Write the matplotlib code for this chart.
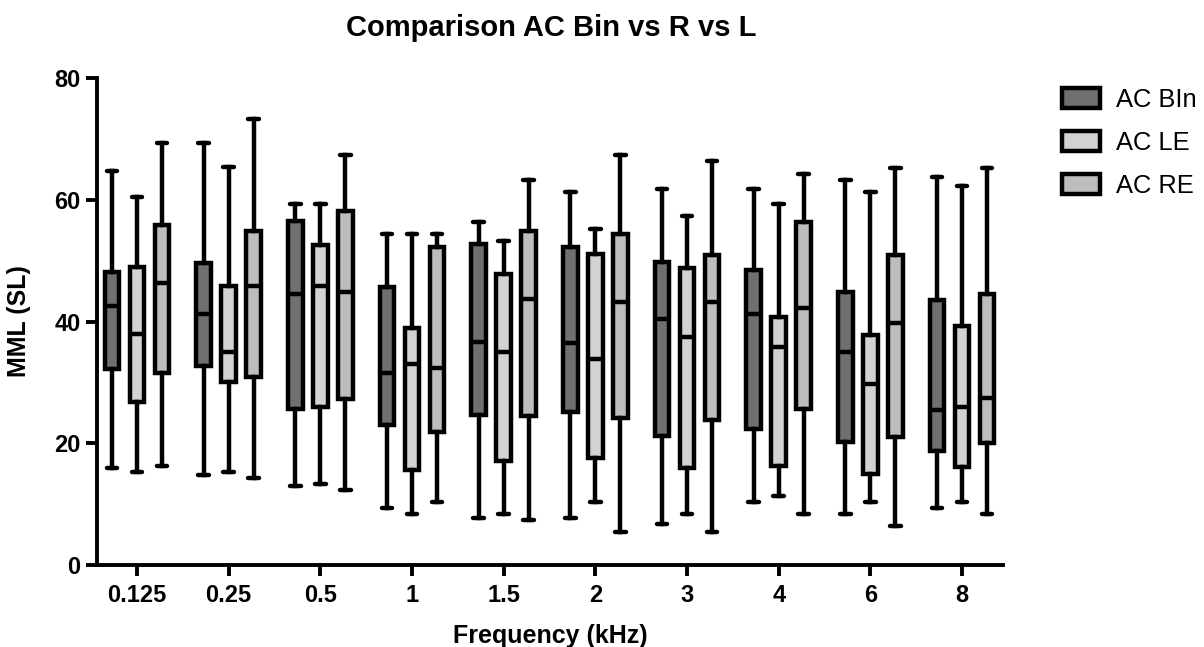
import matplotlib
matplotlib.use("Agg")
import matplotlib.pyplot as plt
from matplotlib.patches import Patch

plt.rcParams['font.family'] = ['Liberation Sans', 'DejaVu Sans']

freqs = ['0.125', '0.25', '0.5', '1', '1.5', '2', '3', '4', '6', '8']
series_names = ['AC BIn', 'AC LE', 'AC RE']
series_colors = ['#707070', '#d2d2d2', '#bdbdbd']

bin_whislo = [15.9, 14.8, 12.9, 9.3, 7.8, 7.8, 6.8, 10.3, 8.4, 9.3]
bin_q1 = [32.2, 32.7, 25.6, 23.0, 24.7, 25.1, 21.2, 22.3, 20.2, 18.8]
bin_med = [42.6, 41.2, 44.6, 31.6, 36.7, 36.4, 40.4, 41.2, 35.0, 25.4]
bin_q3 = [48.2, 49.6, 56.5, 45.6, 52.7, 52.3, 49.8, 48.4, 44.8, 43.5]
bin_whishi = [64.8, 69.3, 59.3, 54.4, 56.3, 61.2, 61.8, 61.8, 63.3, 63.8]

le_whislo = [15.3, 15.3, 13.3, 8.4, 8.4, 10.4, 8.4, 11.3, 10.3, 10.3]
le_q1 = [26.8, 30.0, 26.0, 15.6, 17.1, 17.6, 15.9, 16.3, 14.9, 16.1]
le_med = [37.9, 35.0, 45.9, 33.0, 35.0, 33.9, 37.5, 35.8, 29.7, 26.0]
le_q3 = [49.0, 45.9, 52.6, 38.9, 47.8, 51.1, 48.8, 40.8, 37.8, 39.2]
le_whishi = [60.4, 65.4, 59.3, 54.3, 53.2, 55.2, 57.4, 59.3, 61.2, 62.3]

re_whislo = [16.3, 14.3, 12.3, 10.4, 7.4, 5.4, 5.4, 8.4, 6.4, 8.4]
re_q1 = [31.6, 30.9, 27.2, 21.8, 24.5, 24.1, 23.9, 25.7, 21.1, 20.0]
re_med = [46.3, 45.9, 44.9, 32.3, 43.7, 43.2, 43.2, 42.2, 39.7, 27.5]
re_q3 = [55.9, 54.8, 58.2, 52.3, 54.8, 54.4, 50.9, 56.3, 50.9, 44.6]
re_whishi = [69.3, 73.2, 67.3, 54.3, 63.3, 67.3, 66.3, 64.3, 65.3, 65.3]

series = [
    (bin_whislo, bin_q1, bin_med, bin_q3, bin_whishi),
    (le_whislo, le_q1, le_med, le_q3, le_whishi),
    (re_whislo, re_q1, re_med, re_q3, re_whishi),
]

fig = plt.figure(figsize=(12.04, 6.47), dpi=100)
ax = fig.add_axes([0.0806, 0.1267, 0.7525, 0.7527])

offsets = [-0.273, 0.0, 0.273]
lw = 3.2
for s, (lo, q1, med, q3, hi) in enumerate(series):
    stats = []
    for i in range(len(freqs)):
        stats.append(dict(whislo=lo[i], q1=q1[i], med=med[i], q3=q3[i],
                          whishi=hi[i], fliers=[]))
    positions = [i + offsets[s] for i in range(len(freqs))]
    ax.bxp(stats, positions=positions, widths=0.16, patch_artist=True,
           showfliers=False, capwidths=0.115,
           boxprops=dict(facecolor=series_colors[s], edgecolor='black', linewidth=lw),
           medianprops=dict(color='black', linewidth=lw, solid_capstyle='butt'),
           whiskerprops=dict(color='black', linewidth=lw),
           capprops=dict(color='black', linewidth=lw, solid_capstyle='round'),
           manage_ticks=False)

ax.set_xlim(-0.436, 9.447)
ax.set_ylim(0, 80)
ax.set_xticks(range(len(freqs)))
ax.set_xticklabels(freqs)
ax.set_yticks([0, 20, 40, 60, 80])

for side in ['top', 'right']:
    ax.spines[side].set_visible(False)
for side in ['left', 'bottom']:
    ax.spines[side].set_linewidth(2.8)

ax.tick_params(axis='both', width=2.8, length=8, labelsize=17)
ax.tick_params(axis='x', pad=6)
ax.tick_params(axis='y', pad=4)
for lab in ax.get_xticklabels() + ax.get_yticklabels():
    lab.set_fontweight('bold')

ax.set_xlabel('Frequency (kHz)', fontsize=18, fontweight='bold')
ax.set_ylabel('MML (SL)', fontsize=18, fontweight='bold')
ax.xaxis.set_label_coords(0.5, -0.122)
ax.yaxis.set_label_coords(-0.073, 0.5)
fig.suptitle('Comparison AC Bin vs R vs L', x=0.4576, y=0.956, va='center',
             fontsize=21, fontweight='bold')

handles = [Patch(facecolor=c, edgecolor='black', linewidth=lw) for c in series_colors]
fig.legend(handles, series_names, loc='upper left', bbox_to_anchor=(0.882, 0.864),
           frameon=False, fontsize=18.4, handlelength=1.5, handleheight=0.85,
           handletextpad=0.63, labelspacing=0.74, borderaxespad=0, borderpad=0)

fig.savefig('out.png', dpi=100)
